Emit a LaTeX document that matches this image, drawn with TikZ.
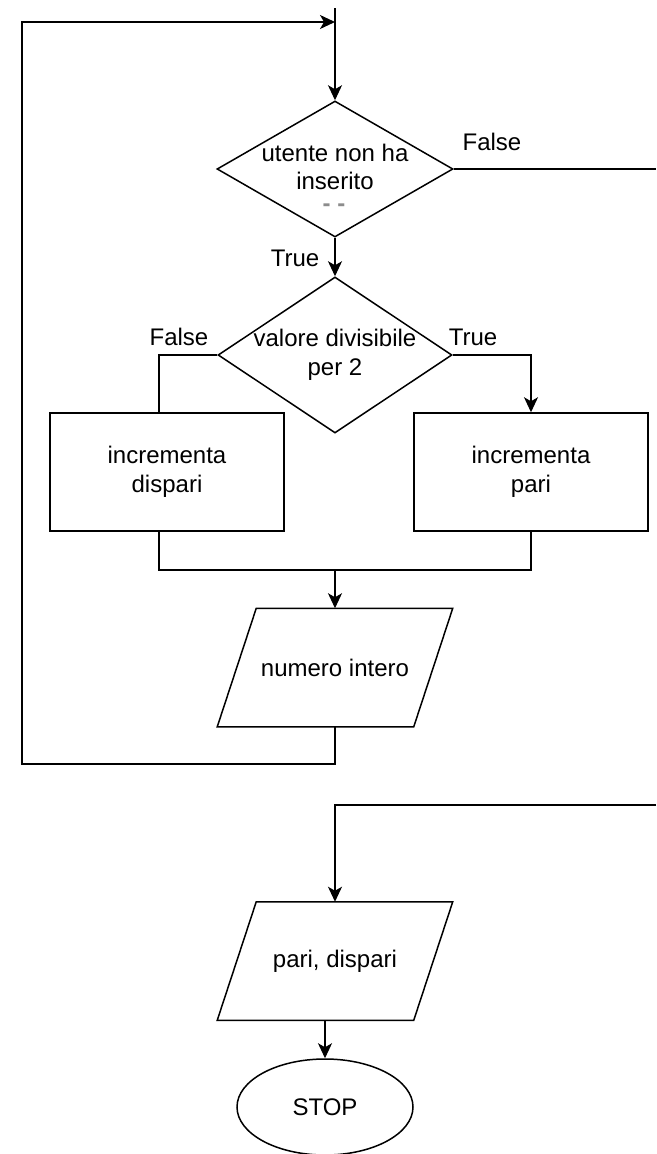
\documentclass[tikz,border=0pt]{standalone}
\usepackage{fontspec}
\setmainfont{Liberation Sans}
\usetikzlibrary{shapes.geometric,arrows.meta,calc}
\begin{document}
\begin{tikzpicture}[x=1pt,y=-1pt,
  line width=1.5pt,
  every node/.style={font=\fontsize{24}{28.5}\selectfont},
  arr/.style={-{Stealth[length=15pt,width=14pt,inset=4pt]}},
  decision/.style={draw,diamond,inner sep=0pt},
  procbox/.style={draw,rectangle,minimum width=234pt,minimum height=118pt,inner sep=0pt,align=center},
  iobox/.style={rectangle,minimum width=234pt,minimum height=117pt,inner sep=0pt},
  terminal/.style={draw,ellipse,minimum width=176pt,minimum height=96pt,inner sep=0pt}
]
\useasboundingbox (0,0) rectangle (656,1154);

% decisions
\node[decision,minimum width=236pt,minimum height=136pt] (d1) at (335,169) {};
\node[align=center] (t1) at (335,167) {utente non ha\\inserito};
\node[text=black!45,inner sep=0pt,font=\fontsize{24}{24}\selectfont\bfseries] (t1q) at (334,208) {- -};
\node[decision,minimum width=234pt,minimum height=156pt] (d2) at (335,355) {};
\node[align=center] (t2) at (335,355) {valore divisibile\\per 2};

% processes
\node[procbox] (b1) at (167,472) {incrementa\\dispari};
\node[procbox] (b2) at (531,472) {incrementa\\pari};

% input / output (slanted outline drawn below)
\node[iobox] (n1) at (335,667.5) {numero intero};
\node[iobox] (n2) at (335,961) {pari, dispari};
\foreach \io in {n1,n2}
  \draw ($(\io.north west)+(39,0)$) -- (\io.north east)
        -- ($(\io.south east)+(-39,0)$) -- (\io.south west) -- cycle;

% end
\node[terminal] (stop) at (325,1107) {STOP};

% branch labels
\node (lf1) at (492,142) {False};
\node (lt1) at (295,258) {True};
\node (lf2) at (179,337) {False};
\node (lt2) at (473,337) {True};

% helper points for the loop and the off-page lines
\coordinate (topin) at (335,8);
\coordinate (mj) at (335,22);
\coordinate (lt) at (22,22);
\coordinate (lb) at (22,764);
\coordinate (re1) at (656,169);
\coordinate (re2) at (656,805);
\coordinate (lx) at (159,0);
\coordinate (mrg) at (335,570);

% connectors
\draw[arr] (topin) -- (d1.north);
\draw (d1.east) -- (re1);
\draw[arr] (d1.south) -- (d2.north);
\draw (d2.west) -| (b1.north -| lx);
\draw[arr] (d2.east) -| (b2.north);
\draw (b1.south -| lx) |- (mrg) -| (b2.south);
\draw[arr] (mrg) -- (n1.north -| mrg);
\draw[arr] (n1.south -| mrg) |- (lb) -- (lt) -- (mj);
\draw[arr] (re2) -| (n2.north -| mrg);
\draw[arr] (n2.south -| stop.north) -- (stop.north);
\end{tikzpicture}
\end{document}
